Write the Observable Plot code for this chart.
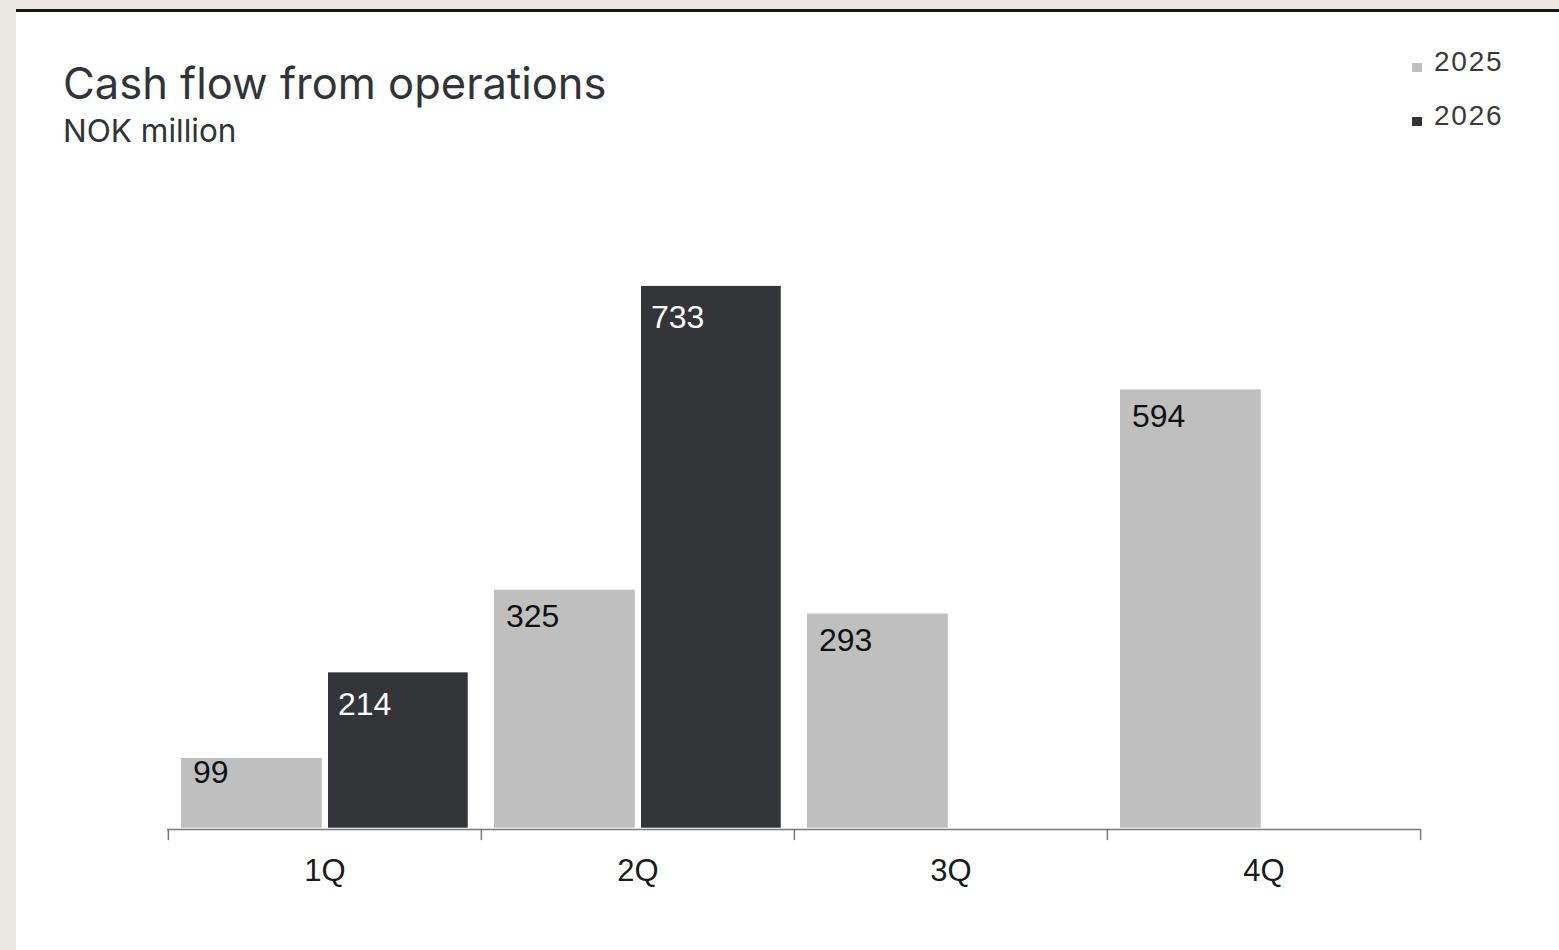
<!DOCTYPE html>
<html>
<head>
<meta charset="utf-8">
<script src="https://cdn.jsdelivr.net/npm/d3@7"></script>
<script src="https://cdn.jsdelivr.net/npm/@observablehq/plot@0.6"></script>
<style>
  html, body { margin: 0; padding: 0; }
  body { width: 1559px; height: 950px; background: #ebe7e2; position: relative; overflow: hidden; font-family: Inter, sans-serif; }
  #panel { position: absolute; left: 16px; top: 12px; width: 1543px; height: 938px; background: #fff; }
  #topline { position: absolute; left: 16px; top: 9px; width: 1543px; height: 3px; background: #141414; }
  #title { position: absolute; left: 63px; top: 62px; font: 400 43.5px/43px Inter, sans-serif; color: #303438; white-space: nowrap; }
  #subtitle { position: absolute; left: 63px; top: 116px; font: 400 31.5px/30px Inter, sans-serif; color: #303438; white-space: nowrap; }
  .sw { position: absolute; left: 1412px; width: 10px; height: 9px; }
  .lt { position: absolute; left: 1434px; font: 400 28px/28px "Liberation Sans", Arial, sans-serif; color: #3a3a3a; letter-spacing: 1.8px; white-space: nowrap; }
  #chart { position: absolute; left: 16px; top: 160px; }
</style>
</head>
<body>
<div id="panel"></div>
<div id="topline"></div>
<div id="title">Cash flow from operations</div>
<div id="subtitle">NOK million</div>
<div id="legend"></div>
<div id="chart"></div>
<script>
// ---- data ----
const quarters = ["1Q", "2Q", "3Q", "4Q"];
const seriesNames = ["2025", "2026"];
const values2025 = [99, 325, 293, 594];
const values2026 = [214, 733];
const seriesColors = ["#bfbfbf", "#333538"];
const labelColors = ["#111111", "#ffffff"];

// ---- tables ----
const d2025 = values2025.map((v, i) => ({quarter: quarters[i], value: v}));
const d2026 = values2026.map((v, i) => ({quarter: quarters[i], value: v}));

// ---- legend ----
const legend = document.getElementById("legend");
seriesNames.forEach((name, i) => {
  const sw = document.createElement("div");
  sw.className = "sw";
  sw.style.top = (63 + i * 54) + "px";
  sw.style.background = seriesColors[i];
  legend.appendChild(sw);
  const t = document.createElement("div");
  t.className = "lt";
  t.style.top = (48 + i * 54) + "px";
  t.textContent = name;
  legend.appendChild(t);
});

// ---- chart ----
const W = 1543, H = 790;
const mL = 151, mR = 139;
const bw = (W - mL - mR) / quarters.length;
const lift = -2.7; // axis line sits slightly above the zero of the value scale
const tickStyle = {stroke: "#7a7a7a", strokeWidth: 1.5, dy: lift};

const chart = Plot.plot({
  width: W,
  height: H,
  marginLeft: mL,
  marginRight: mR,
  marginTop: 76,
  marginBottom: 118.3,
  x: {domain: quarters, padding: 0, label: null},
  y: {domain: [0, 800], axis: null},
  style: {fontFamily: "'Liberation Sans', Arial, sans-serif", fontSize: "31px", color: "#1a1a1a", background: "transparent", overflow: "visible"},
  marks: [
    Plot.barY(d2025, {x: "quarter", y: "value", fill: seriesColors[0], insetLeft: 13, insetRight: bw - 154, insetBottom: 4}),
    Plot.barY(d2026, {x: "quarter", y: "value", fill: seriesColors[1], insetLeft: 160, insetRight: 13.25, insetBottom: 4}),
    Plot.ruleY([0], tickStyle),
    Plot.ruleX(quarters, {x: d => d, y1: 0, y2: -15, dx: -bw / 2, ...tickStyle}),
    Plot.ruleX([quarters[quarters.length - 1]], {x: d => d, y1: 0, y2: -15, dx: bw / 2, ...tickStyle}),
    Plot.text(d2025, {x: "quarter", y: d => Math.max(d.value, 115), text: d => String(d.value), textAnchor: "start", lineAnchor: "top", dx: -132, dy: 14, fill: labelColors[0], fontSize: 32}),
    Plot.text(d2026, {x: "quarter", y: "value", text: d => String(d.value), textAnchor: "start", lineAnchor: "top", dx: 13, dy: 19, fill: labelColors[1], fontSize: 32}),
    Plot.axisX({tickSize: 0, tickPadding: 26.3, fontSize: 31, label: null})
  ]
});
document.getElementById("chart").appendChild(chart);
</script>
</body>
</html>
